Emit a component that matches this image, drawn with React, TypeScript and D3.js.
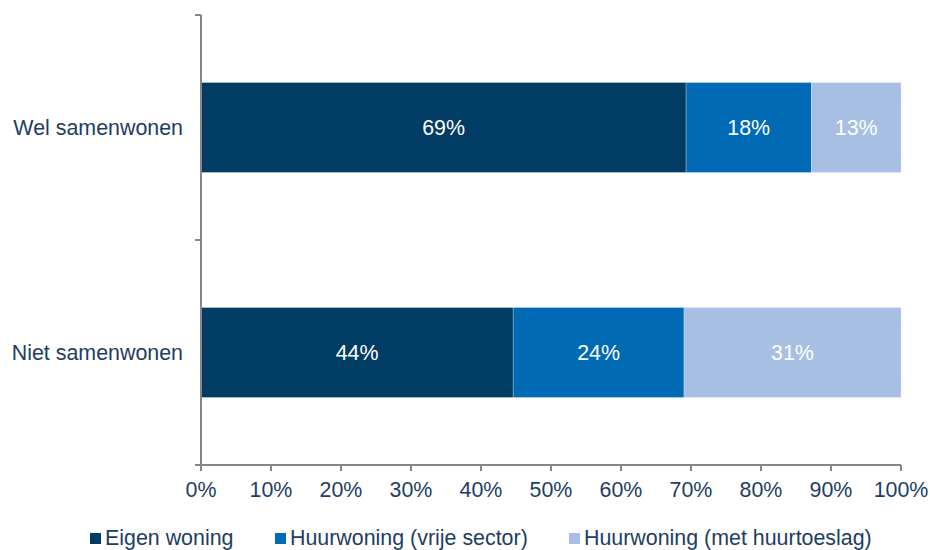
import React from "react";
import * as d3 from "d3";

const categories = ["Wel samenwonen", "Niet samenwonen"];
const seriesNames = ["Eigen woning", "Huurwoning (vrije sector)", "Huurwoning (met huurtoeslag)"];
const eigenWoning = [69.3, 44.6];
const vrijeSector = [17.9, 24.4];
const huurtoeslag = [12.8, 31.0];
const barLabels = [
  ["69%", "18%", "13%"],
  ["44%", "24%", "31%"],
];
const xTicks = [0, 10, 20, 30, 40, 50, 60, 70, 80, 90, 100];
const colors = ["#003C64", "#006BB4", "#A7BFE3"];

const W = 930;
const H = 550;
const textColor = "#1E3D63";
const font = "Arial, 'Liberation Sans', sans-serif";
const fs = 21.4;

export default function App() {
  const x = d3.scaleLinear().domain([0, 100]).range([201, 901]);
  const y = d3.scaleBand().domain(categories).range([15, 465]).paddingInner(0.6).paddingOuter(0.3);
  const rows = categories.map((c, i) => ({ cat: c, v0: eigenWoning[i], v1: vrijeSector[i], v2: huurtoeslag[i] }));
  const stack = d3.stack<any>().keys(["v0", "v1", "v2"])(rows);
  const bw = y.bandwidth();
  const yTicks = [15, 240, 465];
  const legendX = [90, 275, 569];

  return (
    <div style={{ position: "absolute", left: 0, top: 0 }}>
      <svg width={W} height={H} style={{ display: "block", fontFamily: font }}>
        <rect width={W} height={H} fill="#fff" />
        {stack.map((layer, si) =>
          layer.map((d, ci) => (
            <g key={`${si}-${ci}`}>
              <rect
                x={x(d[0])}
                y={y(categories[ci])!}
                width={x(d[1]) - x(d[0])}
                height={bw}
                fill={colors[si]}
                stroke="rgba(255,255,255,0.35)"
                strokeWidth={0.75}
              />
              <text
                x={(x(d[0]) + x(d[1])) / 2}
                y={y(categories[ci])! + bw / 2}
                dy="0.36em"
                textAnchor="middle"
                fill="#fff"
                fontSize={fs}
              >
                {barLabels[ci][si]}
              </text>
            </g>
          ))
        )}
        {/* y axis */}
        <line x1={201} x2={201} y1={15} y2={465} stroke="#868686" strokeWidth={2} />
        {yTicks.map((t) => (
          <line key={t} x1={195} x2={201} y1={t} y2={t} stroke="#868686" strokeWidth={2} />
        ))}
        {categories.map((c) => (
          <text
            key={c}
            x={183}
            y={y(c)! + bw / 2}
            dy="0.36em"
            textAnchor="end"
            fill={textColor}
            fontSize={fs}
          >
            {c}
          </text>
        ))}
        {/* x axis */}
        <line x1={201} x2={901} y1={465} y2={465} stroke="#868686" strokeWidth={2} />
        {xTicks.map((t) => (
          <g key={t}>
            <line x1={x(t)} x2={x(t)} y1={465} y2={471} stroke="#868686" strokeWidth={2} />
            <text x={x(t)} y={497} textAnchor="middle" fill={textColor} fontSize={fs}>
              {t + "%"}
            </text>
          </g>
        ))}
        {/* legend */}
        {seriesNames.map((n, i) => (
          <g key={n}>
            <rect x={legendX[i]} y={533} width={11} height={11} fill={colors[i]} />
            <text x={legendX[i] + 15} y={545} fill={textColor} fontSize={fs}>
              {n}
            </text>
          </g>
        ))}
      </svg>
    </div>
  );
}
